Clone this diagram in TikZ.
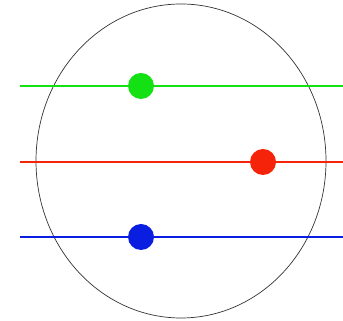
\documentclass[tikz,border=0pt]{standalone}
\usepackage{tikz}
\usetikzlibrary{positioning}

\definecolor{lgreen}{RGB}{20,225,20}
\definecolor{lred}{RGB}{245,35,10}
\definecolor{lblue}{RGB}{10,30,225}

\begin{document}
\begin{tikzpicture}[x=0.03cm, y=0.03cm, dot/.style={circle, fill, inner sep=0pt, minimum size=0.78cm}, track/.style={line width=1.6pt}]

                \useasboundingbox (0,0) rectangle (343,321);
                \draw[line width=0.6pt, black!80] (181,160) ellipse [x radius=145, y radius=157];

                \coordinate (gl) at (20,235);
                \coordinate (gr) at (343,235);
                \coordinate (rl) at (20,159);
                \coordinate (rr) at (343,159);
                \coordinate (bl) at (20,84);
                \coordinate (br) at (343,84);

                \draw[track, lgreen] (gl) -- (gr);
                \draw[track, lred] (rl) -- (rr);
                \draw[track, lblue] (bl) -- (br);

                \node[dot, lgreen] (pg) at (141,235) {};
                \node[dot, lred]   (pr) at (263,159) {};
                \node[dot, lblue]  (pb) at (141,84)  {};
            \end{tikzpicture}
\end{document}
